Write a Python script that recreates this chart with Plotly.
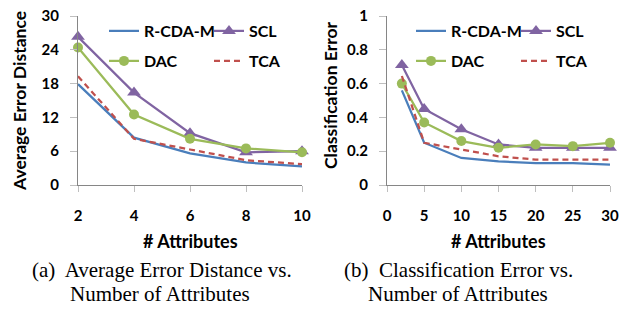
import plotly.graph_objects as go

W, H = 631, 309

# ---- data ----
attrs_a = [2, 4, 6, 8, 10]
rcdam_a = [17.9, 8.4, 5.6, 4.0, 3.3]
scl_a = [26.3, 16.4, 9.2, 5.8, 6.0]
dac_a = [24.4, 12.5, 8.2, 6.5, 5.8]
tca_a = [19.3, 8.2, 6.3, 4.4, 3.7]

attrs_b = [2, 5, 10, 15, 20, 25, 30]
rcdam_b = [0.56, 0.25, 0.16, 0.14, 0.13, 0.13, 0.12]
scl_b = [0.71, 0.45, 0.33, 0.24, 0.22, 0.22, 0.22]
dac_b = [0.60, 0.37, 0.26, 0.22, 0.24, 0.23, 0.25]
tca_b = [0.645, 0.25, 0.21, 0.17, 0.15, 0.15, 0.15]

yticks_a = [0, 6, 12, 18, 24, 30]
xticks_a = [2, 4, 6, 8, 10]
yticks_b = [0, 0.2, 0.4, 0.6, 0.8, 1]
yticklabels_b = ["0", "0.2", "0.4", "0.6", "0.8", "1"]
xticks_b = [0, 5, 10, 15, 20, 25, 30]

BLUE = "#4A7EBB"
PURPLE = "#8064A2"
GREEN = "#9BBB59"
RED = "#C0504D"
AXC = "#868686"
TICKC = "#BFBFBF"
FONT = "Lato"

def px(x):
    return x / W

def py(y):
    return 1 - y / H

fig = go.Figure()

series = [
    ("R-CDA-M", BLUE, "solid", None),
    ("SCL", PURPLE, "solid", "triangle-up"),
    ("DAC", GREEN, "solid", "circle"),
    ("TCA", RED, "6px,4px", None),
]
data_a = [rcdam_a, scl_a, dac_a, tca_a]
data_b = [rcdam_b, scl_b, dac_b, tca_b]

# legend positions (text start x, row center y) for each panel
leg_a = [(140, 31), (245, 31), (140, 61), (245, 61)]
leg_b = [(447, 31), (552, 31), (447, 61), (552, 61)]

legends = {}
li = 1
for panel, (xs, datas, legpos, xa, ya) in enumerate([
    (attrs_a, data_a, leg_a, "x", "y"),
    (attrs_b, data_b, leg_b, "x2", "y2"),
]):
    for (name, col, dash, sym), ys, (lx, ly) in zip(series, datas, legpos):
        lname = "legend" if li == 1 else f"legend{li}"
        mode = "lines+markers" if sym else "lines"
        fig.add_trace(go.Scatter(
            x=xs, y=ys, name=name, mode=mode,
            line=dict(color=col, width=2.25, dash=dash),
            marker=dict(symbol=sym or "circle", size=12 if sym == "triangle-up" else 10,
                        color=col),
            xaxis=xa, yaxis=ya, cliponaxis=False, legend=lname,
        ))
        legends[lname] = dict(
            x=px(lx - 36), y=py(ly), xanchor="left", yanchor="middle",
            bgcolor="rgba(0,0,0,0)", borderwidth=0,
            font=dict(family=FONT, size=16, color="black", weight="bold"),
            itemwidth=30,
        )
        li += 1

tickfont = dict(family=FONT, size=15, color="black", weight="bold")
common_x = dict(showline=True, linecolor=AXC, linewidth=1, ticks="outside",
                ticklen=6, tickcolor=TICKC, showgrid=False, zeroline=False,
                tickfont=tickfont, ticklabelstandoff=11, fixedrange=True)
common_y = dict(showline=True, linecolor=AXC, linewidth=1, ticks="outside",
                ticklen=7, tickcolor=TICKC, showgrid=False, zeroline=False,
                tickfont=tickfont, ticklabelstandoff=8, fixedrange=True)

ydom = [py(185), py(16)]
fig.update_layout(
    width=W, height=H,
    margin=dict(l=0, r=0, t=0, b=0, autoexpand=False),
    paper_bgcolor="white", plot_bgcolor="white",
    showlegend=True,
    xaxis=dict(domain=[px(78), px(302)], range=[2, 10], tickvals=xticks_a,
               anchor="y", **common_x),
    yaxis=dict(domain=ydom, range=[0, 30], tickvals=yticks_a, anchor="x", **common_y),
    xaxis2=dict(domain=[px(387), px(610)], range=[0, 30], tickvals=xticks_b,
                anchor="y2", **common_x),
    yaxis2=dict(domain=ydom, range=[0, 1], tickvals=yticks_b, ticktext=yticklabels_b,
                anchor="x2", **common_y),
    **legends,
)

ytitlefont = dict(family=FONT, size=17.5, color="black", weight="bold")
xtitlefont = dict(family=FONT, size=18, color="black", weight="bold")
capfont = dict(family="Liberation Serif", size=21, color="black")
ann = [
    dict(text="Average Error Distance", x=px(19), y=py(101), textangle=-90, font=ytitlefont),
    dict(text="Classification Error", x=px(331), y=py(96), textangle=-90, font=ytitlefont),
    dict(text="# Attributes", x=px(190), y=py(241), font=xtitlefont),
    dict(text="# Attributes", x=px(498), y=py(241), font=xtitlefont),
    dict(text="(a)  Average Error Distance vs.", x=px(162), y=py(270), font=capfont),
    dict(text="Number of Attributes", x=px(160), y=py(294), font=capfont),
    dict(text="(b)  Classification Error vs.", x=px(458), y=py(270), font=capfont),
    dict(text="Number of Attributes", x=px(458), y=py(294), font=capfont),
]
for a in ann:
    fig.add_annotation(xref="paper", yref="paper", showarrow=False,
                       xanchor="center", yanchor="middle", **a)

fig.write_html("out.html", config={"displayModeBar": False},
               post_script="document.body.style.margin='0';")
